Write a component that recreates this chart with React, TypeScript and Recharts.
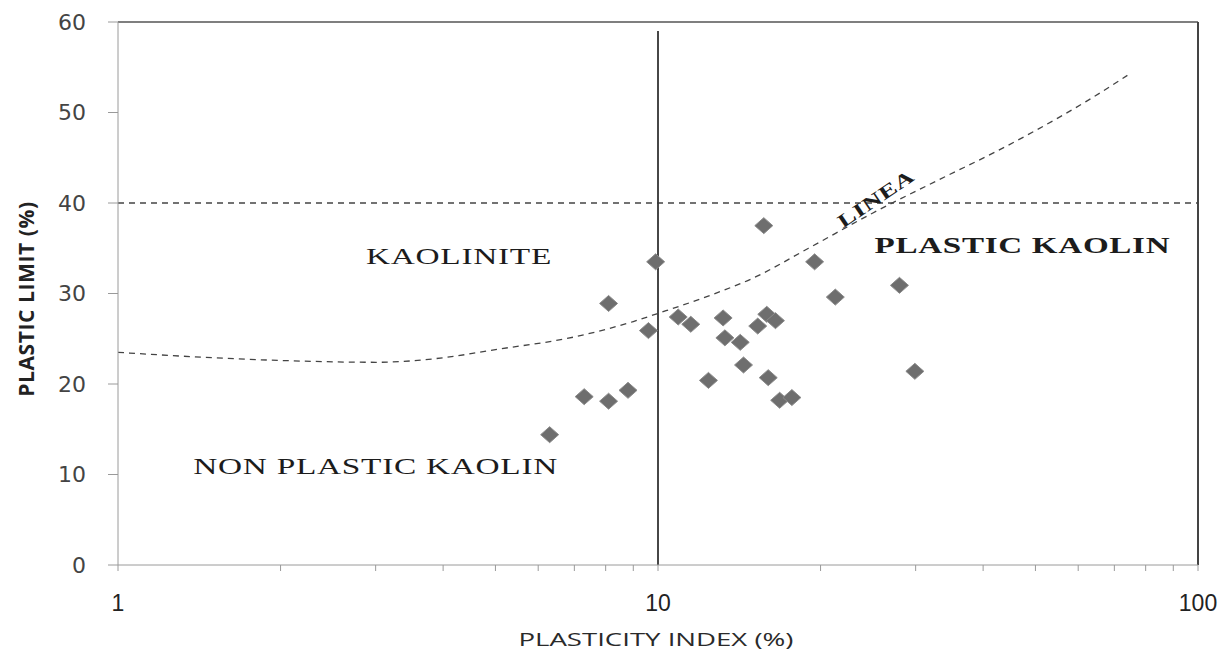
import { ComposedChart, XAxis, YAxis, Line, Scatter, ReferenceLine, ReferenceDot } from "recharts";

// plasticity index (%) and plastic limit (%) of the samples
const sampleIndex = [6.3, 7.3, 8.1, 8.8, 8.1, 9.6, 9.9, 10.9, 11.5, 13.2, 13.3, 14.2, 14.4, 12.4, 15.3, 15.9, 16.5, 16.0, 16.8, 17.7, 15.7, 19.5, 21.3, 28.0, 29.9];
const sampleLimit = [14.4, 18.6, 18.1, 19.3, 28.9, 25.9, 33.5, 27.4, 26.6, 27.3, 25.1, 24.6, 22.1, 20.4, 26.4, 27.7, 27.0, 20.7, 18.2, 18.5, 37.5, 33.5, 29.6, 30.9, 21.4];

// "Line A" boundary
const lineAIndex = [1, 1.5, 2, 3, 4, 5, 7, 9, 10, 12.5, 15, 19, 25, 34, 42, 50, 62, 74];
const lineALimit = [23.5, 22.9, 22.6, 22.4, 22.9, 23.8, 25.2, 26.9, 27.8, 29.8, 31.7, 35.0, 38.9, 42.9, 45.6, 48.0, 51.2, 54.1];

const xTicks = [1, 2, 3, 4, 5, 6, 7, 8, 9, 10, 20, 30, 40, 50, 60, 70, 80, 90, 100];
const yTicks = [0, 10, 20, 30, 40, 50, 60];
const majorX = [1, 10, 100];

const samples = sampleIndex.map((x, i) => ({ x, y: sampleLimit[i] }));
const lineA = lineAIndex.map((x, i) => ({ x, y: lineALimit[i] }));

const Diamond = (props: any) => {
  const { cx, cy } = props;
  if (cx == null || cy == null) return null;
  return (
    <polygon
      points={`${cx - 9},${cy} ${cx},${cy - 8} ${cx + 9},${cy} ${cx},${cy + 8}`}
      fill="#6e6e6e"
      stroke="#8a8a8a"
      strokeWidth={1}
    />
  );
};

// region captions, the source has them stretched sideways
const caption = (text: string, size: number, bold = false, angle = 0, stretch = 1.45) => (p: any) => (
  <text
    transform={`translate(${p.cx},${p.cy}) rotate(${angle}) scale(${stretch},1)`}
    textAnchor="middle"
    dominantBaseline="central"
    fill="#1c1c1c"
    fontSize={size}
    fontWeight={bold ? 700 : 400}
    fontFamily="'Liberation Serif', 'Times New Roman', serif"
    letterSpacing={0.5}
  >
    {text}
  </text>
);

export default function App() {
  return (
    <div style={{ position: "absolute", left: 0, top: 0, width: 1221, height: 656, background: "#fff", overflow: "hidden" }}>
      <ComposedChart width={1221} height={656} margin={{ top: 22, right: 23, left: 58, bottom: 51 }}>
        <XAxis
          dataKey="x"
          type="number"
          scale="log"
          domain={[1, 100]}
          ticks={xTicks}
          allowDataOverflow
          tickFormatter={(v: number) => (majorX.includes(v) ? String(v) : "")}
          tickSize={6}
          tickMargin={24}
          height={40}
          stroke="#9a9a9a"
          tick={{ fill: "#222", fontSize: 23, fontFamily: "'Liberation Sans', Arial, sans-serif" }}
        />
        <YAxis
          dataKey="y"
          type="number"
          domain={[0, 60]}
          ticks={yTicks}
          width={60}
          tickSize={10}
          tickMargin={22}
          stroke="#9a9a9a"
          tick={{ fill: "#444", fontSize: 22, fontFamily: "'DejaVu Sans', Verdana, sans-serif" }}
        />
        <ReferenceLine y={60} stroke="#555" strokeWidth={1.5} />
        <ReferenceLine x={100} stroke="#444" strokeWidth={2} />
        <ReferenceLine y={40} stroke="#444" strokeWidth={1.3} strokeDasharray="6 5" />
        <ReferenceLine segment={[{ x: 10, y: 0 }, { x: 10, y: 59 }]} stroke="#333" strokeWidth={1.8} />
        <Line
          data={lineA}
          dataKey="y"
          type="monotone"
          stroke="#444"
          strokeWidth={1.3}
          strokeDasharray="6 5"
          dot={false}
          activeDot={false}
          isAnimationActive={false}
        />
        <Scatter data={samples} dataKey="y" shape={Diamond} isAnimationActive={false} />
        <ReferenceDot x={4.28} y={34.1} r={0} shape={caption("KAOLINITE", 23)} />
        <ReferenceDot x={3.0} y={10.9} r={0} shape={caption("NON PLASTIC KAOLIN", 23)} />
        <ReferenceDot x={47.3} y={35.4} r={0} shape={caption("PLASTIC KAOLIN", 24, true, 0, 1.38)} />
        <ReferenceDot x={25.3} y={40.5} r={0} shape={caption("LINEA", 19, true, -34, 1.4)} />
      </ComposedChart>
      <div
        style={{
          position: "absolute",
          left: 356,
          top: 626,
          width: 600,
          textAlign: "center",
          fontFamily: "'Open Sans', sans-serif",
          fontSize: 19,
          fontWeight: 400,
          color: "#2a2a2a",
          lineHeight: "26px",
          transform: "scaleX(1.45)",
        }}
      >
        PLASTICITY INDEX (%)
      </div>
      <div
        style={{
          position: "absolute",
          left: 26 - 150,
          top: 299 - 14,
          width: 300,
          textAlign: "center",
          fontFamily: "'Open Sans', sans-serif",
          fontSize: 21,
          fontWeight: 700,
          color: "#222",
          lineHeight: "28px",
          transform: "rotate(-90deg)",
          letterSpacing: 0.6,
        }}
      >
        PLASTIC LIMIT (%)
      </div>
    </div>
  );
}
